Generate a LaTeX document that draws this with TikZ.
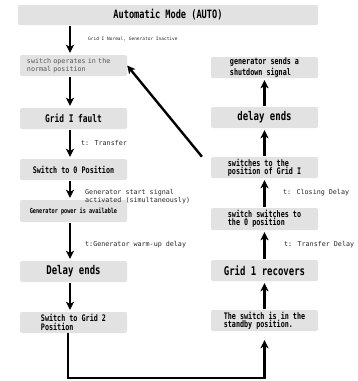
\documentclass[tikz,border=0pt]{standalone}
\usepackage{fontspec}
\usepackage{tikz}
\usetikzlibrary{arrows.meta}

\newfontfamily\boxfont[FakeStretch=0.75]{DejaVu Sans Mono}
\newfontfamily\notefont{DejaVu Sans Mono}

\definecolor{boxfill}{RGB}{226,226,226}
\definecolor{notegray}{RGB}{85,85,85}

\begin{document}
\begin{tikzpicture}[x=1pt, y=-1pt,
    stepbox/.style={fill=boxfill, rounded corners=2pt, minimum width=107pt, minimum height=21pt,
        inner sep=0pt, align=left, font=\boxfont\bfseries\fontsize{9}{8.4}\selectfont},
    bigbox/.style={stepbox, font=\boxfont\bfseries\fontsize{12}{12}\selectfont},
    note/.style={anchor=west, inner sep=0pt, align=left, text=black!85,
        font=\notefont\fontsize{6.7}{7.6}\selectfont},
    arr/.style={line width=2.4pt, -{Stealth[length=8pt, width=8pt, inset=2pt]},
        shorten <=1pt, shorten >=2pt}]
    \useasboundingbox (0,0) rectangle (358,381);

    % title
    \node[stepbox, minimum width=300pt, minimum height=20pt,
        font=\boxfont\bfseries\fontsize{11.5}{12}\selectfont] (auto) at (168,15) {Automatic Mode (AUTO)};

    % left column
    \node[stepbox, font=\notefont\fontsize{6.7}{8}\selectfont, text=notegray,
        text width=93pt] (normal) at (73.5,65.5) {switch operates in the\\normal position};
    \node[bigbox, font=\boxfont\bfseries\fontsize{10.5}{12}\selectfont] (fault) at (73.5,118.5) {Grid I fault};
    \node[stepbox] (zero) at (73.5,169.5) {Switch to 0 Position};
    \node[stepbox, minimum height=22pt, font=\boxfont\bfseries\fontsize{6.9}{8}\selectfont] (power) at (73.5,211) {Generator power is available};
    \node[bigbox] (delay) at (73.5,271.5) {Delay ends};
    \node[stepbox] (grid2) at (73.5,322.5) {Switch to Grid 2\\ Position};

    % right column
    \node[stepbox] (shutdown) at (264.5,67.5) {generator sends a\\shutdown signal};
    \node[bigbox] (rdelay) at (264.5,117.5) {delay ends};
    \node[stepbox] (gridone) at (264.5,167.5) {switches to the\\position of Grid I};
    \node[stepbox, minimum height=22pt] (rzero) at (264.5,219) {switch switches to\\the 0 position};
    \node[bigbox] (recover) at (264.5,270.5) {Grid 1 recovers};
    \node[stepbox] (standby) at (264.5,320.5) {The switch is in the\\standby position.};

    % notes
    \node[note, font=\notefont\fontsize{4.5}{5}\selectfont] (n1) at (88,39) {Grid I Normal, Generator Inactive};
    \node[note] (n2) at (81,143) {t: Transfer};
    \node[note] (n3) at (85,196.5) {Generator start signal\\activated (simultaneously)};
    \node[note] (n4) at (85,245) {t:Generator warm-up delay};
    \node[note] (n5) at (283,193) {t: Closing Delay};
    \node[note] (n6) at (284,245) {t: Transfer Delay};

    % down arrows
    \draw[arr] ([xshift=-3.5pt]auto.south -| normal) -- ([xshift=-3.5pt]normal.north);
    \draw[arr] ([xshift=-3.5pt]normal.south) -- ([xshift=-3.5pt]fault.north);
    \draw[arr] ([xshift=-3.5pt]fault.south) -- ([xshift=-3.5pt]zero.north);
    \draw[arr] ([xshift=-3.5pt]zero.south) -- ([xshift=-3.5pt]power.north);
    \draw[arr] ([xshift=-3.5pt]power.south) -- ([xshift=-3.5pt]delay.north);
    \draw[arr] ([xshift=-3.5pt]delay.south) -- ([xshift=-3.5pt]grid2.north);

    % return path
    \coordinate (turn) at (68,378);
    \draw[arr, shorten <=0pt, shorten >=9pt] ([xshift=-5.5pt]grid2.south) -- (turn) -| (standby.south);

    % up arrows
    \draw[arr] (standby.north) -- (recover.south);
    \draw[arr] (recover.north) -- (rzero.south);
    \draw[arr] (rzero.north) -- (gridone.south);
    \draw[arr] (gridone.north) -- (rdelay.south);
    \draw[arr] (rdelay.north) -- (shutdown.south);

    % back to normal
    \draw[arr, shorten <=14pt, shorten >=0pt] (gridone.west) -- (normal.east);
\end{tikzpicture}
\end{document}
